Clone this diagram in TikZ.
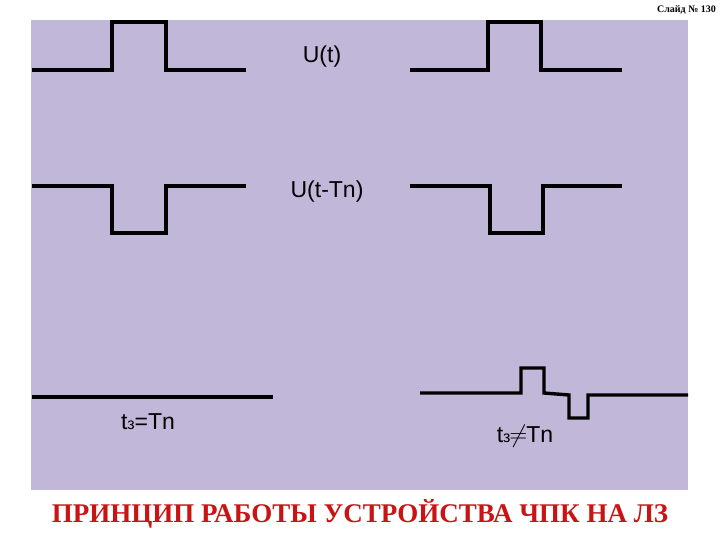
\documentclass[tikz,border=0pt]{standalone}
\usepackage{fontspec}
\setmainfont{Liberation Serif}
\newfontfamily\lsans{Liberation Sans}
\definecolor{bgp}{RGB}{193,183,217}
\definecolor{ttl}{RGB}{200,20,20}
\begin{document}
\begin{tikzpicture}[x=1pt,y=-1pt,
  sig/.style={line width=3.4pt,line join=miter},
  lbl/.style={font=\lsans\fontsize{23}{26}\selectfont,inner sep=0pt}]
\useasboundingbox (0,0) rectangle (720,540);
\fill[bgp] (31,20) rectangle (688,490);
\node[font=\bfseries\fontsize{10}{11}\selectfont,anchor=east,inner sep=0pt] (num) at (716,10) {Слайд № 130};
\draw[sig] (32,70) -- (112,70) -- (112,22) -- (166,22) -- (166,70) -- (246,70);
\draw[sig] (410,70) -- (488,70) -- (488,22) -- (541,22) -- (541,70) -- (622,70);
\node[lbl] (u1) at (322,57) {U(t)};
\draw[sig] (32,186) -- (112,186) -- (112,233) -- (166,233) -- (166,186) -- (246,186);
\draw[sig] (410,186) -- (490,186) -- (490,233) -- (543,233) -- (543,186) -- (622,186);
\node[lbl] (u2) at (327,192) {U(t-Tn)};
\draw[sig] (32,397) -- (273,397);
\node[lbl] (t1) at (148,422) {t{\fontsize{16}{17}\selectfont з}=Tn};
\draw[sig] (420,393) -- (521,393) -- (521,368) -- (544,368) -- (544,393) -- (569,395) -- (569,418) -- (588,418) -- (588,395) -- (688,395);
\node[lbl] (t2) at (525,436) {t{\fontsize{16}{17}\selectfont з}\kern-1pt$\neq$\kern-1pt Tn};
\node[font=\bfseries\fontsize{27}{30}\selectfont,text=ttl,inner sep=0pt] (title) at (360,514) {ПРИНЦИП РАБОТЫ УСТРОЙСТВА ЧПК НА ЛЗ};
\end{tikzpicture}
\end{document}
